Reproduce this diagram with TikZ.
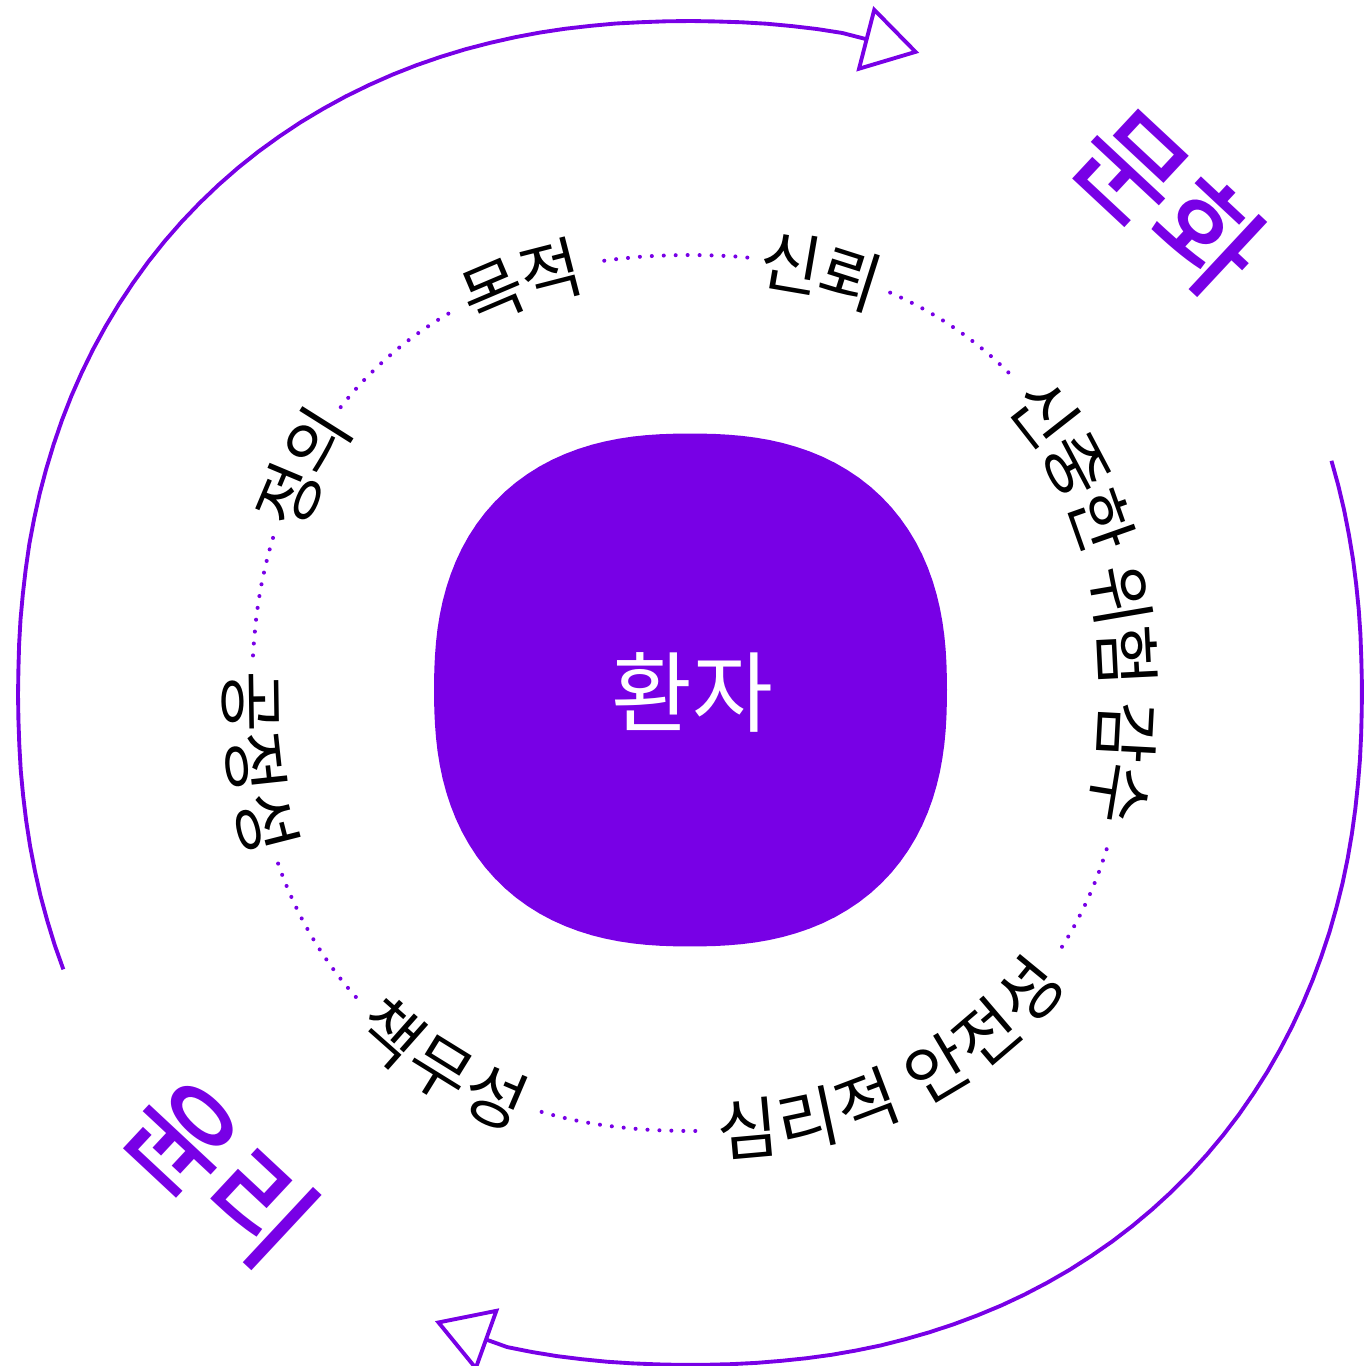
\documentclass[tikz,border=0pt]{standalone}
\usepackage{fontspec}
\setmainfont{Noto Sans CJK KR}
\newfontfamily\medfont{Noto Sans CJK KR Medium}
\usetikzlibrary{arrows.meta, decorations.text}

\definecolor{brandpurple}{HTML}{7800E6}
\newcommand{\lblsize}{\fontsize{19}{22}\selectfont}
\newcommand{\bigsize}{\medfont\fontsize{32}{38}\selectfont}

\begin{document}
\begin{tikzpicture}[
        declare function={sq(\x,\e)=1/((abs(cos(\x))+0.0001)^\e+(abs(sin(\x))+0.0001)^\e)^(1/\e);},
        ring/.style={draw=brandpurple, line width=1.1pt, -{Triangle[open, length=16pt, width=19pt]}},
        dots/.style={draw=brandpurple, line width=1.15pt, line cap=round, dash pattern=on 0pt off 3.4pt},
        lbl/.style={decorate, decoration={text along path, text align=center, raise=-7.2pt, text={|\lblsize|#1}}},
        word/.style={text=brandpurple, font=\bigsize, rotate=-43}
    ]
    \useasboundingbox (-6.90,-6.73) rectangle (6.74,6.93);

    % outer cycle
    \draw[ring] plot[domain=203.8:77, samples=60] (\x:{6.72*sq(\x,2.2)}) -- (70.3:6.80);
    \draw[ring] plot[domain=19.9:-105.6, samples=60] (\x:{6.72*sq(\x,2.2)}) -- (-112.1:6.78);
    \node[word] (culture) at (4.80,4.91) {문화};
    \node[word] (ethics) at (-4.69,-4.79) {윤리};

    % dotted ring, broken by the values
    \draw[dots] plot[domain=45.2:63.8, samples=20] (\x:{4.38*sq(\x,2.2)});
    \draw[dots] plot[domain=82.5:101.9, samples=20] (\x:{4.38*sq(\x,2.2)});
    \draw[dots] plot[domain=122.5:141, samples=20] (\x:{4.38*sq(\x,2.2)});
    \draw[dots] plot[domain=159.6:175.4, samples=20] (\x:{4.38*sq(\x,2.2)});
    \draw[dots] plot[domain=202.5:222.7, samples=20] (\x:{4.38*sq(\x,2.2)});
    \draw[dots] plot[domain=250.5:271, samples=20] (\x:{4.38*sq(\x,2.2)});
    \draw[dots] plot[domain=325.7:339.6, samples=20] (\x:{4.38*sq(\x,2.2)});

    % values, upper half clockwise, lower half anticlockwise
    \path[lbl=목적] plot[domain=132:92, samples=40] (\x:{4.38*sq(\x,2.2)});
    \path[lbl=신뢰] plot[domain=93:53, samples=40] (\x:{4.38*sq(\x,2.2)});
    \path[lbl=정의] plot[domain=170:130, samples=40] (\x:{4.38*sq(\x,2.2)});
    \path[lbl=신중한 위험 감수] plot[domain=52:-27, samples=70] (\x:{4.38*sq(\x,2.2)});
    \path[lbl=공정성] plot[domain=169:209, samples=40] (\x:{4.38*sq(\x,2.2)});
    \path[lbl=책무성] plot[domain=216:257, samples=40] (\x:{4.38*sq(\x,2.2)});
    \path[lbl=심리적 안전성] plot[domain=263:333, samples=70] (\x:{4.38*sq(\x,2.2)});

    % centre
    \fill[brandpurple, shift={(0.005,0.03)}] plot[domain=0:360, samples=120] (\x:{2.565*sq(\x,2.4)}) -- cycle;
    \node[text=white, font=\fontsize{25}{30}\selectfont] (patient) at (0.02,0.01) {환자};
\end{tikzpicture}
\end{document}
